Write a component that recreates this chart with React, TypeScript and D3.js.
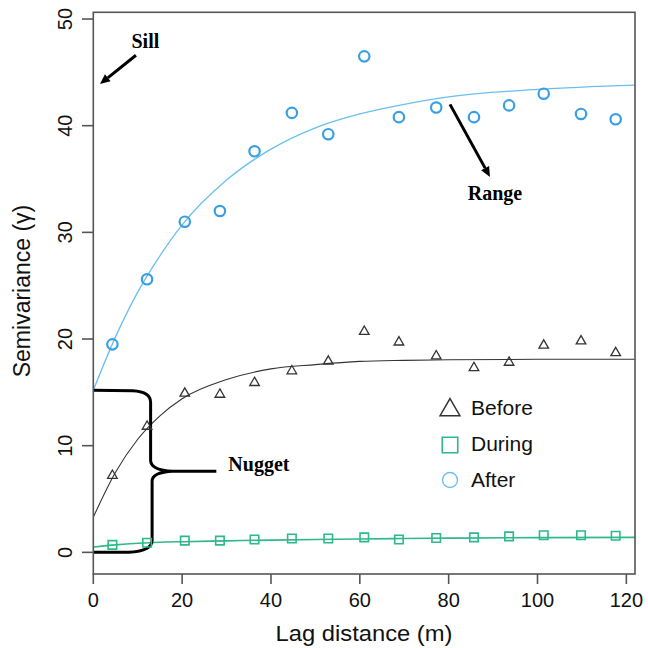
import React from 'react';
import * as d3 from 'd3';

// lag bins (m)
const lags = [4.3, 12.1, 20.6, 28.5, 36.3, 44.7, 52.9, 61.0, 68.8, 77.2, 85.7, 93.6, 101.4, 109.8, 117.6];

// empirical semivariance per period
const before = [7.2, 11.8, 14.9, 14.8, 15.9, 17.0, 17.9, 20.7, 19.7, 18.4, 17.3, 17.8, 19.4, 19.8, 18.7];
const during = [0.7, 0.9, 1.1, 1.1, 1.2, 1.3, 1.3, 1.4, 1.2, 1.35, 1.4, 1.5, 1.6, 1.6, 1.55];
const after = [19.5, 25.6, 31.0, 32.0, 37.6, 41.2, 39.2, 46.5, 40.8, 41.7, 40.8, 41.9, 43.0, 41.1, 40.6];

// fitted model curves
const fitLags = [0, 5, 10, 15, 20, 30, 40, 50, 60, 70, 80, 100, 122];
const beforeFit = [3.3, 7.5, 10.6, 12.8, 14.4, 16.2, 17.2, 17.6, 17.9, 18.0, 18.05, 18.1, 18.1];
const duringFit = [0.5, 0.7, 0.85, 0.95, 1.0, 1.08, 1.15, 1.2, 1.25, 1.3, 1.33, 1.38, 1.4];
const afterFit = [15.2, 20.2, 24.4, 27.8, 30.7, 34.9, 37.8, 39.8, 41.1, 42.0, 42.7, 43.4, 43.8];

const xTicks = [0, 20, 40, 60, 80, 100, 120];
const yTicks = [0, 10, 20, 30, 40, 50];
const legendLabels = ['Before', 'During', 'After'];

const BLUE = '#3a9fe2';
const BLUE_LINE = '#6abfef';
const GREEN = '#2eb88c';
const DARK = '#333333';

const W = 648;
const H = 648;
const sans = '"Liberation Sans", Arial, sans-serif';
const serif = '"Liberation Serif", "Times New Roman", serif';

export default function App() {
  const x = d3.scaleLinear().domain([0, 121.95]).range([93.3, 635]);
  const y = d3.scaleLinear().domain([-2.03, 50.63]).range([574, 12.3]);

  const line = d3
    .line<number>()
    .x((_, i) => x(fitLags[i]))
    .y(d => y(d))
    .curve(d3.curveMonotoneX);

  const tri = d3.symbol(d3.symbolTriangle, 40)();
  const sq = d3.symbol(d3.symbolSquare, 72)();
  const triBig = d3.symbol(d3.symbolTriangle, 170)();
  const sqBig = d3.symbol(d3.symbolSquare, 240)();

  // nugget brace in data units
  const bx = x(12.9);
  const tipX = x(27.7);
  const top = y(15.2);
  const bot = y(0);
  const mid = y(7.6);
  const brace = [
    `M${x(0)},${top}`,
    `L${bx - 18},${top + 0.5}`,
    `Q${bx},${top + 1.5} ${bx},${top + 12}`,
    `L${bx},${mid - 11}`,
    `Q${bx},${mid - 1} ${bx + 22},${mid}`,
    `L${tipX},${mid}`,
    `M${bx + 22},${mid}`,
    `Q${bx + 1.5},${mid + 1} ${bx + 1.5},${mid + 10}`,
    `L${bx + 1.5},${bot - 12}`,
    `Q${bx + 1.5},${bot - 1} ${bx - 22},${bot}`,
    `L${x(0)},${bot}`,
  ].join(' ');

  const arrow = (x1: number, y1: number, x2: number, y2: number) => {
    const px1 = x(x1), py1 = y(y1), px2 = x(x2), py2 = y(y2);
    const a = Math.atan2(py2 - py1, px2 - px1);
    const len = 10, half = 4.5;
    const bxp = px2 - len * Math.cos(a), byp = py2 - len * Math.sin(a);
    const head = `M${px2},${py2} L${bxp - half * Math.sin(a)},${byp + half * Math.cos(a)} L${bxp + half * Math.sin(a)},${byp - half * Math.cos(a)} Z`;
    return (
      <g>
        <line x1={px1} y1={py1} x2={bxp} y2={byp} stroke="#000" strokeWidth={3} />
        <path d={head} fill="#000" />
      </g>
    );
  };

  return (
    <svg width={W} height={H} style={{ position: 'absolute', left: 0, top: 0, background: '#fff' }}>
      <rect width={W} height={H} fill="#fff" />

      {/* fitted lines */}
      <path d={line(afterFit) || ''} fill="none" stroke={BLUE_LINE} strokeWidth={1.3} />
      <path d={line(beforeFit) || ''} fill="none" stroke={DARK} strokeWidth={1.1} />
      <path d={line(duringFit) || ''} fill="none" stroke={GREEN} strokeWidth={1.6} />

      {/* nugget brace */}
      <path d={brace} fill="none" stroke="#000" strokeWidth={3} strokeLinejoin="round" />

      {/* points */}
      {lags.map((l, i) => (
        <circle key={'a' + i} cx={x(l)} cy={y(after[i])} r={5.2} fill="none" stroke={BLUE} strokeWidth={2.2} />
      ))}
      {lags.map((l, i) => (
        <path key={'b' + i} d={tri || ''} transform={`translate(${x(l)},${y(before[i])})`} fill="none" stroke={DARK} strokeWidth={1.3} />
      ))}
      {lags.map((l, i) => (
        <path key={'d' + i} d={sq || ''} transform={`translate(${x(l)},${y(during[i])})`} fill="none" stroke={GREEN} strokeWidth={1.6} />
      ))}

      {/* annotations */}
      {arrow(9.6, 46.6, 1.5, 43.9)}
      {arrow(80.3, 42.0, 89.3, 35.2)}
      <text x={x(8.6)} y={y(47.25)} fontFamily={serif} fontWeight="bold" fontSize={20} fill="#000">Sill</text>
      <text x={x(84.3)} y={y(33.0)} fontFamily={serif} fontWeight="bold" fontSize={20} fill="#000">Range</text>
      <text x={x(30.4)} y={y(7.6)} fontFamily={serif} fontWeight="bold" fontSize={20} fill="#000">Nugget</text>

      {/* legend */}
      <g fontFamily={sans} fontSize={21} fill="#111">
        <path d={triBig || ''} transform="translate(450,410)" fill="none" stroke={DARK} strokeWidth={1.5} />
        <text x={471} y={415}>{legendLabels[0]}</text>
        <path d={sqBig || ''} transform="translate(450,445)" fill="none" stroke={GREEN} strokeWidth={1.6} />
        <text x={471} y={451}>{legendLabels[1]}</text>
        <circle cx={450} cy={480} r={7.5} fill="none" stroke={BLUE_LINE} strokeWidth={1.4} />
        <text x={471} y={487}>{legendLabels[2]}</text>
      </g>

      {/* frame and axes */}
      <rect x={93.3} y={12.3} width={635 - 93.3} height={574 - 12.3} fill="none" stroke="#555" strokeWidth={1.6} />
      {xTicks.map(t => (
        <g key={'xt' + t}>
          <line x1={x(t)} x2={x(t)} y1={574} y2={584} stroke="#555" strokeWidth={1.6} />
          <text x={x(t)} y={607} textAnchor="middle" fontFamily={sans} fontSize={20} fill="#111">{t}</text>
        </g>
      ))}
      {yTicks.map(t => (
        <g key={'yt' + t}>
          <line x1={82} x2={93.3} y1={y(t)} y2={y(t)} stroke="#555" strokeWidth={1.6} />
          <text transform={`translate(71.5,${y(t)}) rotate(-90)`} textAnchor="middle" fontFamily={sans} fontSize={20} fill="#111">{t}</text>
        </g>
      ))}
      <text x={364} y={641} textAnchor="middle" fontFamily={sans} fontSize={22.5} textLength={177} lengthAdjust="spacingAndGlyphs" fill="#111">Lag distance (m)</text>
      <text transform="translate(30,291) rotate(-90)" textAnchor="middle" fontFamily={sans} fontSize={23} fill="#111">Semivariance (γ)</text>
    </svg>
  );
}
